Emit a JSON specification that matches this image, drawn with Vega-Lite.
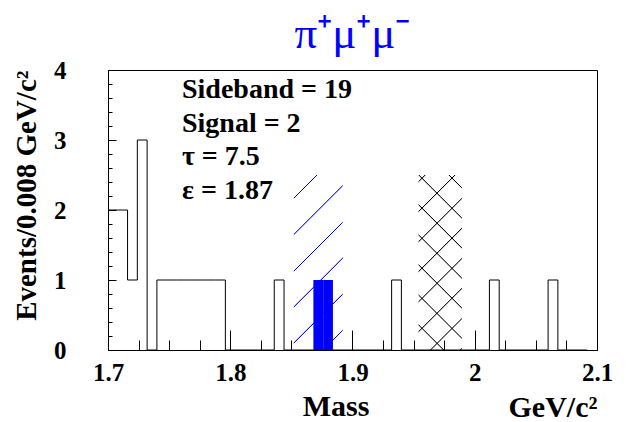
{
  "$schema": "https://vega.github.io/schema/vega-lite/v6.json",
  "width": 489,
  "height": 280,
  "autosize": "none",
  "padding": {"left": 108, "top": 70, "right": 32, "bottom": 72},
  "background": "white",
  "config": {
    "view": {"stroke": "black", "strokeWidth": 1},
    "axis": {"grid": false, "domainColor": "black", "tickColor": "black", "labelColor": "black", "titleColor": "black",
             "labelFont": "Liberation Serif", "titleFont": "Liberation Serif", "labelFontWeight": "bold", "titleFontWeight": "bold"}
  },
  "title": {"text": "π⁺μ⁺μ⁻", "color": "#0000ff", "font": "Liberation Serif", "fontSize": 45, "fontWeight": "normal", "anchor": "middle", "offset": 1},
  "datasets": {
    "sideband": [
      {"mass_lo": 1.700, "events": 2}, {"mass_lo": 1.708, "events": 2}, {"mass_lo": 1.716, "events": 1},
      {"mass_lo": 1.724, "events": 3}, {"mass_lo": 1.732, "events": 0}, {"mass_lo": 1.740, "events": 1},
      {"mass_lo": 1.748, "events": 1}, {"mass_lo": 1.756, "events": 1}, {"mass_lo": 1.764, "events": 1},
      {"mass_lo": 1.772, "events": 1}, {"mass_lo": 1.780, "events": 1}, {"mass_lo": 1.788, "events": 1},
      {"mass_lo": 1.796, "events": 0}, {"mass_lo": 1.804, "events": 0}, {"mass_lo": 1.812, "events": 0},
      {"mass_lo": 1.820, "events": 0}, {"mass_lo": 1.828, "events": 0}, {"mass_lo": 1.836, "events": 1},
      {"mass_lo": 1.844, "events": 0}, {"mass_lo": 1.852, "events": 0}, {"mass_lo": 1.860, "events": 0},
      {"mass_lo": 1.868, "events": 0}, {"mass_lo": 1.876, "events": 0}, {"mass_lo": 1.884, "events": 0},
      {"mass_lo": 1.892, "events": 0}, {"mass_lo": 1.900, "events": 0}, {"mass_lo": 1.908, "events": 0},
      {"mass_lo": 1.916, "events": 0}, {"mass_lo": 1.924, "events": 0}, {"mass_lo": 1.932, "events": 1},
      {"mass_lo": 1.940, "events": 0}, {"mass_lo": 1.948, "events": 0}, {"mass_lo": 1.956, "events": 0},
      {"mass_lo": 1.964, "events": 0}, {"mass_lo": 1.972, "events": 0}, {"mass_lo": 1.980, "events": 0},
      {"mass_lo": 1.988, "events": 0}, {"mass_lo": 1.996, "events": 0}, {"mass_lo": 2.004, "events": 0},
      {"mass_lo": 2.012, "events": 1}, {"mass_lo": 2.020, "events": 0}, {"mass_lo": 2.028, "events": 0},
      {"mass_lo": 2.036, "events": 0}, {"mass_lo": 2.044, "events": 0}, {"mass_lo": 2.052, "events": 0},
      {"mass_lo": 2.060, "events": 1}, {"mass_lo": 2.068, "events": 0}, {"mass_lo": 2.076, "events": 0},
      {"mass_lo": 2.084, "events": 0}, {"mass_lo": 2.092, "events": 0}
    ],
    "signal": [
      {"mass_lo": 1.868, "mass_hi": 1.876, "events": 1},
      {"mass_lo": 1.876, "mass_hi": 1.884, "events": 1}
    ]
  },
  "encoding": {
    "x": {"field": "mass_lo", "type": "quantitative", "scale": {"domain": [1.7, 2.1], "nice": false, "zero": false},
          "axis": {"values": [1.7, 1.725, 1.75, 1.775, 1.8, 1.825, 1.85, 1.875, 1.9, 1.925, 1.95, 1.975, 2.0, 2.025, 2.05, 2.075, 2.1],
                   "tickSize": {"condition": {"test": "abs(datum.value * 10 - round(datum.value * 10)) < 0.001", "value": -20}, "value": -10},
                   "tickWidth": 1,
                   "labelExpr": "abs(datum.value * 10 - round(datum.value * 10)) < 0.001 ? format(datum.value, '~g') : ''",
                   "labelFontSize": 25, "labelPadding": 30, "labelOverlap": false, "labelFlush": false, "labelBound": false,
                   "title": "GeV/c²", "titleAnchor": "end", "titleFontSize": 30, "titleBaseline": "alphabetic", "titleY": 66}},
    "y": {"field": "events", "type": "quantitative", "scale": {"domain": [0, 4], "nice": false},
          "axis": {"values": [0, 0.2, 0.4, 0.6, 0.8, 1, 1.2, 1.4, 1.6, 1.8, 2, 2.2, 2.4, 2.6, 2.8, 3, 3.2, 3.4, 3.6, 3.8, 4],
                   "tickSize": {"condition": {"test": "abs(datum.value - round(datum.value)) < 0.001", "value": -8}, "value": -4},
                   "tickWidth": 1,
                   "labelExpr": "abs(datum.value - round(datum.value)) < 0.001 ? format(datum.value, '~g') : ''",
                   "labelFontSize": 25, "labelPadding": 50, "labelOverlap": false, "labelFlush": false, "labelBound": false,
                   "title": "Events/0.008 GeV/c²", "titleAnchor": "end", "titleFontSize": 29, "titlePadding": 12}}
  },
  "layer": [
    {
      "data": {"values": [{"mass_lo": 1.852, "mass_hi": 1.892, "events": 2.5}]},
      "mark": {"type": "rect", "fill": {"gradient": "linear", "x1": 0, "y1": 0, "x2": 0.3316, "y2": 1.1868, "stops": [
        {"offset": 0, "color": "rgba(0,0,255,0)"},
        {"offset": 0.099, "color": "rgba(0,0,255,0)"}, {"offset": 0.102, "color": "#0000ff"}, {"offset": 0.104, "color": "#0000ff"}, {"offset": 0.107, "color": "rgba(0,0,255,0)"},
        {"offset": 0.262, "color": "rgba(0,0,255,0)"}, {"offset": 0.265, "color": "#0000ff"}, {"offset": 0.267, "color": "#0000ff"}, {"offset": 0.270, "color": "rgba(0,0,255,0)"},
        {"offset": 0.425, "color": "rgba(0,0,255,0)"}, {"offset": 0.428, "color": "#0000ff"}, {"offset": 0.430, "color": "#0000ff"}, {"offset": 0.433, "color": "rgba(0,0,255,0)"},
        {"offset": 0.585, "color": "rgba(0,0,255,0)"}, {"offset": 0.588, "color": "#0000ff"}, {"offset": 0.590, "color": "#0000ff"}, {"offset": 0.593, "color": "rgba(0,0,255,0)"},
        {"offset": 0.746, "color": "rgba(0,0,255,0)"}, {"offset": 0.749, "color": "#0000ff"}, {"offset": 0.751, "color": "#0000ff"}, {"offset": 0.754, "color": "rgba(0,0,255,0)"},
        {"offset": 0.908, "color": "rgba(0,0,255,0)"}, {"offset": 0.911, "color": "#0000ff"}, {"offset": 0.913, "color": "#0000ff"}, {"offset": 0.916, "color": "rgba(0,0,255,0)"},
        {"offset": 1, "color": "rgba(0,0,255,0)"}
      ]}},
      "encoding": {"x2": {"field": "mass_hi"}, "y2": {"datum": 0}}
    },
    {
      "data": {"values": [{"mass_lo": 1.954, "mass_hi": 1.9895, "events": 2.5}]},
      "mark": {"type": "rect", "fill": {"gradient": "linear", "x1": 0, "y1": 0, "x2": 0.2916, "y2": 1.1757, "stops": [
        {"offset": 0, "color": "rgba(0,0,0,0)"},
        {"offset": 0.027, "color": "rgba(0,0,0,0)"}, {"offset": 0.030, "color": "#000000"}, {"offset": 0.032, "color": "#000000"}, {"offset": 0.035, "color": "rgba(0,0,0,0)"},
        {"offset": 0.164, "color": "rgba(0,0,0,0)"}, {"offset": 0.167, "color": "#000000"}, {"offset": 0.169, "color": "#000000"}, {"offset": 0.172, "color": "rgba(0,0,0,0)"},
        {"offset": 0.302, "color": "rgba(0,0,0,0)"}, {"offset": 0.305, "color": "#000000"}, {"offset": 0.307, "color": "#000000"}, {"offset": 0.310, "color": "rgba(0,0,0,0)"},
        {"offset": 0.439, "color": "rgba(0,0,0,0)"}, {"offset": 0.442, "color": "#000000"}, {"offset": 0.444, "color": "#000000"}, {"offset": 0.447, "color": "rgba(0,0,0,0)"},
        {"offset": 0.577, "color": "rgba(0,0,0,0)"}, {"offset": 0.580, "color": "#000000"}, {"offset": 0.582, "color": "#000000"}, {"offset": 0.585, "color": "rgba(0,0,0,0)"},
        {"offset": 0.714, "color": "rgba(0,0,0,0)"}, {"offset": 0.717, "color": "#000000"}, {"offset": 0.719, "color": "#000000"}, {"offset": 0.722, "color": "rgba(0,0,0,0)"},
        {"offset": 0.852, "color": "rgba(0,0,0,0)"}, {"offset": 0.855, "color": "#000000"}, {"offset": 0.857, "color": "#000000"}, {"offset": 0.860, "color": "rgba(0,0,0,0)"},
        {"offset": 0.989, "color": "rgba(0,0,0,0)"}, {"offset": 0.992, "color": "#000000"}, {"offset": 0.994, "color": "#000000"}, {"offset": 0.997, "color": "rgba(0,0,0,0)"},
        {"offset": 1, "color": "rgba(0,0,0,0)"}
      ]}},
      "encoding": {"x2": {"field": "mass_hi"}, "y2": {"datum": 0}}
    },
    {
      "data": {"values": [{"mass_lo": 1.954, "mass_hi": 1.9895, "events": 2.5}]},
      "mark": {"type": "rect", "fill": {"gradient": "linear", "x1": 0, "y1": 1, "x2": 0.2916, "y2": -0.1757, "stops": [
        {"offset": 0, "color": "rgba(0,0,0,0)"},
        {"offset": 0.111, "color": "rgba(0,0,0,0)"}, {"offset": 0.114, "color": "#000000"}, {"offset": 0.116, "color": "#000000"}, {"offset": 0.119, "color": "rgba(0,0,0,0)"},
        {"offset": 0.248, "color": "rgba(0,0,0,0)"}, {"offset": 0.251, "color": "#000000"}, {"offset": 0.253, "color": "#000000"}, {"offset": 0.256, "color": "rgba(0,0,0,0)"},
        {"offset": 0.386, "color": "rgba(0,0,0,0)"}, {"offset": 0.389, "color": "#000000"}, {"offset": 0.391, "color": "#000000"}, {"offset": 0.394, "color": "rgba(0,0,0,0)"},
        {"offset": 0.523, "color": "rgba(0,0,0,0)"}, {"offset": 0.526, "color": "#000000"}, {"offset": 0.528, "color": "#000000"}, {"offset": 0.531, "color": "rgba(0,0,0,0)"},
        {"offset": 0.661, "color": "rgba(0,0,0,0)"}, {"offset": 0.664, "color": "#000000"}, {"offset": 0.666, "color": "#000000"}, {"offset": 0.669, "color": "rgba(0,0,0,0)"},
        {"offset": 0.798, "color": "rgba(0,0,0,0)"}, {"offset": 0.801, "color": "#000000"}, {"offset": 0.803, "color": "#000000"}, {"offset": 0.806, "color": "rgba(0,0,0,0)"},
        {"offset": 0.936, "color": "rgba(0,0,0,0)"}, {"offset": 0.939, "color": "#000000"}, {"offset": 0.941, "color": "#000000"}, {"offset": 0.944, "color": "rgba(0,0,0,0)"},
        {"offset": 1, "color": "rgba(0,0,0,0)"}
      ]}},
      "encoding": {"x2": {"field": "mass_hi"}, "y2": {"datum": 0}}
    },
    {
      "data": {"name": "sideband"},
      "mark": {"type": "line", "interpolate": "step-after", "color": "black", "strokeWidth": 1},
      "encoding": {}
    },
    {
      "data": {"name": "signal"},
      "mark": {"type": "rect", "fill": "#0000ff"},
      "encoding": {"x2": {"field": "mass_hi"}, "y2": {"datum": 0}}
    },
    {
      "data": {"values": [{"mass_lo": 1.7605, "events": 3.6}]},
      "mark": {"type": "text", "text": ["Sideband = 19", "Signal = 2", "τ = 7.5", "ε = 1.87"], "font": "Liberation Serif", "fontWeight": "bold", "fontSize": 28, "align": "left", "baseline": "alphabetic", "lineHeight": 33.5, "color": "black"},
      "encoding": {}
    },
    {
      "data": {"values": [{"mass_lo": 1.8865, "events": 0}]},
      "mark": {"type": "text", "text": "Mass", "font": "Liberation Serif", "fontWeight": "bold", "fontSize": 30, "align": "center", "baseline": "alphabetic", "dy": 66, "color": "black"},
      "encoding": {}
    }
  ]
}
